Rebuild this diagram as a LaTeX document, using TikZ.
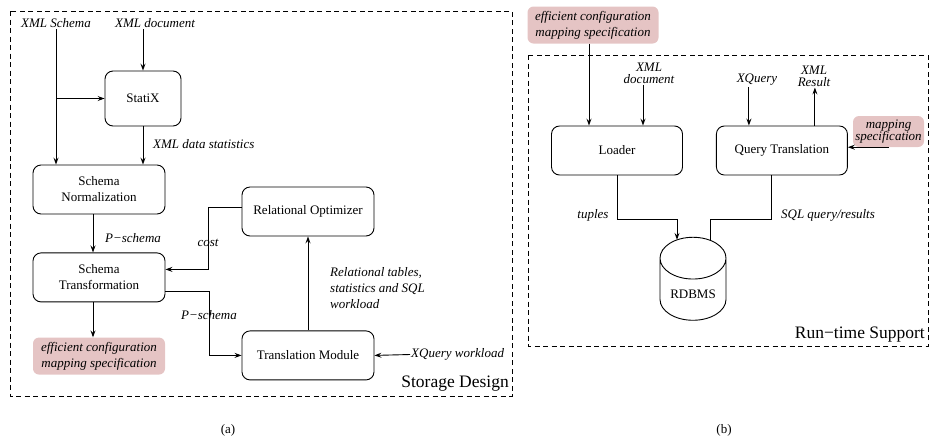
\documentclass[tikz,border=0pt]{standalone}
\usepackage{fontspec}
\setmainfont{Liberation Serif}
\usepackage{tikz}
\usetikzlibrary{arrows.meta,positioning,shapes.geometric}

\definecolor{specpink}{RGB}{229,196,196}

\begin{document}
\begin{tikzpicture}[
    x=1pt, y=-1pt,
    font=\fontsize{13}{16}\selectfont,
    module/.style={rectangle, draw, line width=0.9pt, rounded corners=8pt, minimum width=132pt, minimum height=49pt, align=center},
    spec/.style={rectangle, fill=specpink, rounded corners=6pt, minimum width=131pt, minimum height=37pt, align=center, font=\fontsize{13}{16}\selectfont\itshape},
    tag/.style={font=\fontsize{13}{16}\selectfont\itshape, inner sep=1pt},
    panel/.style={draw, line width=0.8pt, dash pattern=on 5pt off 3.5pt},
    arrow/.style={-{Stealth[length=7pt,width=5pt,inset=2.5pt]}, line width=0.9pt}
]
    \useasboundingbox (0,0) rectangle (933,440);

    % (a) Storage Design
    \draw[panel] (10,11) rectangle (512,396);
    \node[tag] (xsd) at (56,23) {XML Schema};
    \node[tag] (xmldoc) at (155,23) {XML document};
    \node[module, minimum width=76pt, minimum height=55pt] (statix) at (143,98.5) {StatiX};
    \node[module] (norm) at (99,189.5) {Schema\\Normalization};
    \node[module, below=38pt of norm] (trans) {Schema\\Transformation};
    \node[spec, below=35pt of trans, minimum width=132pt] (effl) {efficient configuration\\mapping specification};
    \node[module] (ro) at (308,211.5) {Relational Optimizer};
    \node[module, below=94pt of ro] (tm) {Translation Module};
    \node[tag, anchor=west] (xqw) at (410,354.5) {XQuery workload};
    \node[tag, anchor=west] at (152,144) {XML data statistics};
    \node[tag, anchor=west] at (104,238) {P−schema};
    \node[tag] at (209,315) {P−schema};
    \node[tag] at (208,243) {cost};
    \node[tag, anchor=west, align=left] at (329,288) {Relational tables,\\statistics and SQL\\workload};
    \node[anchor=east, font=\fontsize{17.5}{20}\selectfont, inner sep=1pt] at (510,384) {Storage Design};

    \draw[arrow] (xsd.south) -- (xsd.south |- norm.north);
    \draw[arrow] (xsd.south |- statix.west) -- (statix.west);
    \draw[arrow] (statix.north |- xmldoc.south) -- (statix.north);
    \draw[arrow] (statix.south) -- (statix.south |- norm.north);
    \draw[arrow] ([xshift=-6pt]norm.south) -- ([xshift=-6pt]trans.north);
    \draw[arrow] ([xshift=-6pt]trans.south) -- ([xshift=-6pt]effl.north);
    \draw[arrow] ([yshift=4pt]ro.west) -- ++(-33,0) |- ([yshift=8pt]trans.east);
    \draw[arrow] ([yshift=-14pt]trans.east) -- ++(44,0) |- (tm.west);
    \draw[arrow] (tm.north) -- (ro.south);
    \draw[arrow] (xqw.west) -- (tm.east);

    % (b) Run-time Support
    \draw[panel] (528,55) rectangle (928,346);
    \node[spec] (effr) at (593,25) {efficient configuration\\mapping specification};
    \node[module, minimum width=131pt] (loader) at (617,150.5) {Loader};
    \node[module, minimum width=131pt, right=33pt of loader] (qt) {Query Translation};
    \node[spec, minimum width=71pt, minimum height=31pt, inner sep=2pt, font=\fontsize{13}{12}\selectfont\itshape] (mapspec) at (888.5,131.5) {mapping\\specification};
    \node[tag, align=center, font=\fontsize{13}{12}\selectfont\itshape] (xmldocr) at (649,73) {XML\\document};
    \node[tag] (xq) at (757,80) {XQuery};
    \node[tag, align=center, font=\fontsize{13}{12}\selectfont\itshape] (xmlres) at (814,76) {XML\\Result};
    \node[cylinder, shape border rotate=90, aspect=0.8, draw, line width=0.9pt, minimum width=66pt, minimum height=83pt] (db) at (693,294) {RDBMS};
    \node[tag] at (593,215) {tuples};
    \node[tag] at (828,215) {SQL query/results};
    \node[anchor=east, font=\fontsize{17.5}{20}\selectfont, inner sep=1pt] at (926,335) {Run−time Support};

    \draw[arrow] ([xshift=-4pt]effr.south) -- ([xshift=-28pt]loader.north);
    \draw[arrow] ([xshift=26pt]loader.north |- xmldocr.south) -- ([xshift=26pt]loader.north);
    \draw[arrow] ([xshift=-33pt]qt.north |- xq.south) -- ([xshift=-33pt]qt.north);
    \draw[arrow] ([xshift=33pt]qt.north) -- ([xshift=33pt]qt.north |- xmlres.south);
    \draw[arrow] (mapspec.south) -- (mapspec.south -| qt.east);
    \draw[arrow] (loader.south) -- ++(0,44) -| ([xshift=-16pt,yshift=-3pt]db.north);
    \draw[line width=0.9pt] ([xshift=-10pt]qt.south) -- ++(0,44) -| ([xshift=17pt,yshift=-3pt]db.north);

    % captions
    \node (capa) at (228,430) {(a)};
    \node (capb) at (724,430) {(b)};
\end{tikzpicture}
\end{document}
